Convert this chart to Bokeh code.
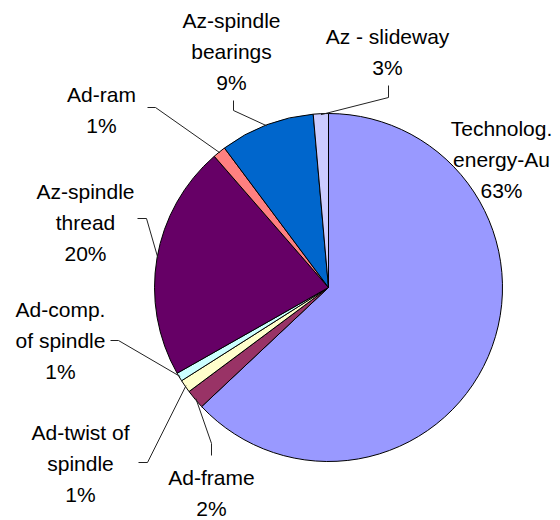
import math
from bokeh.plotting import figure
from bokeh.models import Range1d, ColumnDataSource
from bokeh.core.properties import value
from bokeh.embed import file_html
from bokeh.resources import INLINE

# ---- data (clockwise from 12 o'clock) ----
categories = ["Technolog. energy-Au", "Ad-frame", "Ad-twist of spindle", "Ad-comp. of spindle",
              "Az-spindle thread", "Ad-ram", "Az-spindle bearings", "Az - slideway"]
shares = [63.0, 1.8, 1.2, 0.8, 21.8, 1.2, 8.8, 1.4]
label_lines = [["Technolog.", "energy-Au", "63%"],
               ["Ad-frame", "2%"],
               ["Ad-twist of", "spindle", "1%"],
               ["Ad-comp.", "of spindle", "1%"],
               ["Az-spindle", "thread", "20%"],
               ["Ad-ram", "1%"],
               ["Az-spindle", "bearings", "9%"],
               ["Az - slideway", "3%"]]
colors = ["#9999FF", "#993366", "#FFFFCC", "#CCFFFF", "#660066", "#FF8080", "#0066CC", "#CCCCFF"]

# ---- layout (image pixel coordinates) ----
W, H = 560, 520
CX, CY, R = 328, 287, 174
label_anchor = [(501, 128), (211, 477), (80, 432), (60, 309), (85, 191), (101, 94), (231, 20), (387, 36)]
leader_start = [None, [(211, 455), (211, 443)], [(138, 462), (147, 462)], [(110, 340), (118, 340)],
                [(137, 218), (146, 218)], [(147, 107), (155, 107)], [(233, 100), (233, 110)],
                [(388, 85), (388, 97)]]
LINE_H = 31
FONT = "Liberation Sans"
FSIZE = "21px"


def Y(iy):
    return H - iy


p = figure(width=W, height=H, output_backend="svg", toolbar_location=None,
           x_range=Range1d(0, W), y_range=Range1d(0, H), min_border=0)
p.axis.visible = False
p.grid.visible = False
p.outline_line_color = None
p.background_fill_color = "white"
p.border_fill_color = "white"

total = sum(shares)
starts, ends, mids = [], [], []
cum = 0.0
for s in shares:
    a0 = math.pi / 2 - 2 * math.pi * cum / total
    cum += s
    a1 = math.pi / 2 - 2 * math.pi * cum / total
    starts.append(a1)
    ends.append(a0)
    mids.append((a0 + a1) / 2)

src = ColumnDataSource(dict(start=starts, end=ends, color=colors, name=categories))
p.wedge(x=CX, y=Y(CY), radius=R, start_angle="start", end_angle="end",
        fill_color="color", line_color="black", line_width=1, source=src)

# leader lines
for i, pts in enumerate(leader_start):
    if pts is None:
        continue
    ex = CX + (R - 1) * math.cos(mids[i])
    ey = Y(CY) + (R - 1) * math.sin(mids[i])
    xs = [pts[0][0], pts[1][0], ex]
    ys = [Y(pts[0][1]), Y(pts[1][1]), ey]
    p.line(xs, ys, line_color="#222222", line_width=1)

# labels
tx, ty, tt = [], [], []
for (ax, ay), lines in zip(label_anchor, label_lines):
    for k, line in enumerate(lines):
        tx.append(ax)
        ty.append(Y(ay + k * LINE_H))
        tt.append(line)
p.text(x=tx, y=ty, text=tt, text_align="center", text_baseline="alphabetic",
       text_font=value(FONT), text_font_size=FSIZE, text_color="black")

open("out.html", "w").write(file_html(p, INLINE))
